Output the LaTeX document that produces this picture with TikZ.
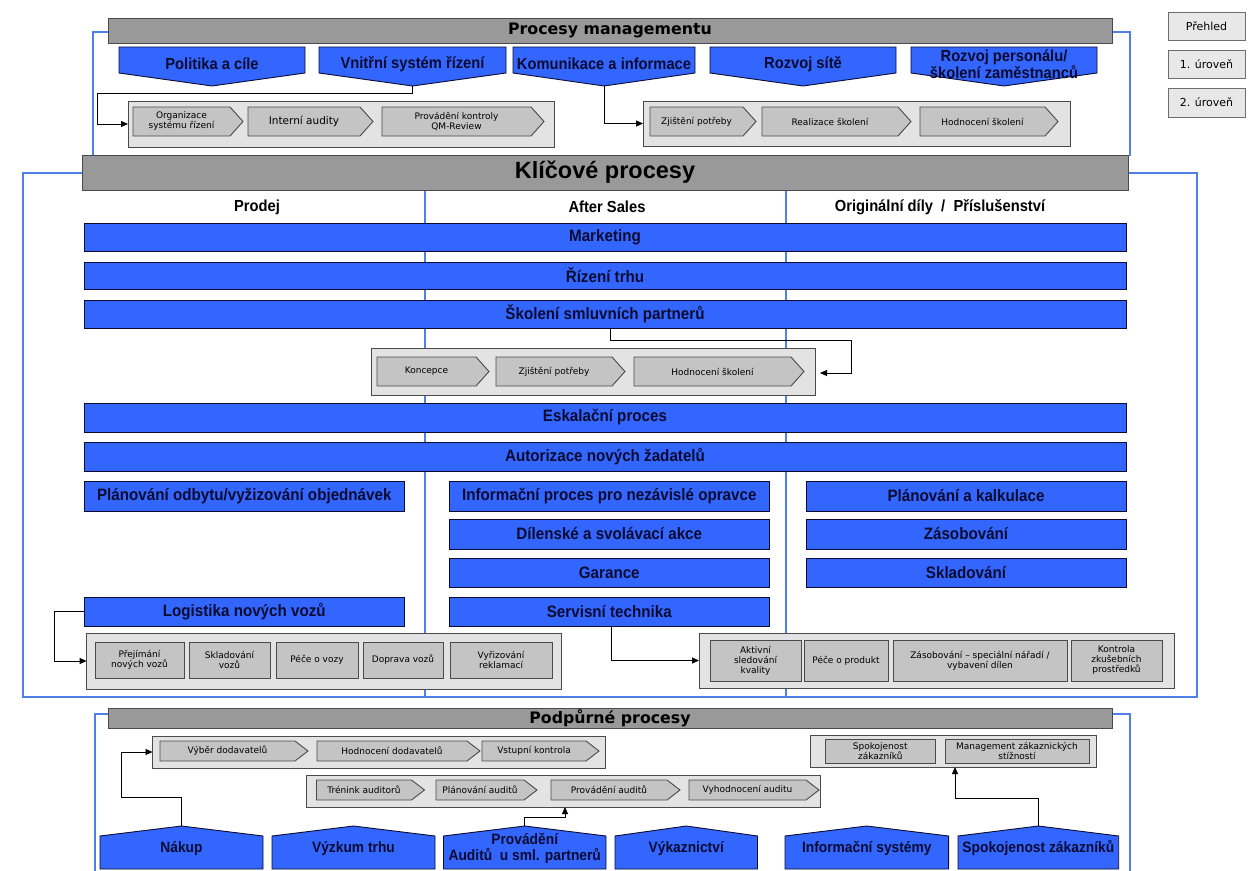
\documentclass[tikz,border=0pt]{standalone}
\usepackage{fontspec}
\setmainfont{Liberation Sans}
\newfontfamily\dejafont{DejaVu Sans}
\newfontfamily\barfont[FakeStretch=0.92]{Liberation Sans}
\usetikzlibrary{arrows.meta}

\definecolor{procblue}{HTML}{3366FF}
\definecolor{frameblue}{HTML}{4F7FE8}
\definecolor{bartext}{HTML}{0B0B30}
\definecolor{bargray}{HTML}{999999}
\definecolor{stepgray}{HTML}{C4C4C4}
\definecolor{panelgray}{HTML}{E3E3E3}
\definecolor{edgegray}{HTML}{4A4A4A}
\definecolor{legendgray}{HTML}{E8E8E8}

\tikzset{
  frameline/.style={draw=frameblue, line width=2pt},
  headbar/.style={fill=bargray, draw=edgegray, line width=1pt, inner sep=0pt, outer sep=0pt,
    font=\dejafont\bfseries\fontsize{15.8}{18}\selectfont},
  bluebar/.style={fill=procblue, draw=bartext, line width=0.9pt, text=bartext, inner sep=0pt, outer sep=0pt,
    font=\barfont\bfseries\fontsize{16.5}{18}\selectfont},
  bluepoly/.style={fill=procblue, draw=bartext, line width=0.9pt},
  bluelabel/.style={text=bartext, inner sep=0pt, align=center,
    font=\barfont\bfseries\fontsize{16}{15}\selectfont},
  colhead/.style={text=black, inner sep=0pt, font=\barfont\bfseries\fontsize{16}{18}\selectfont},
  panel/.style={fill=panelgray, draw=edgegray, line width=0.9pt, inner sep=0pt, outer sep=0pt},
  stepshape/.style={fill=stepgray, draw=edgegray, line width=0.9pt},
  steplabel/.style={text=black, inner sep=0pt, align=center, font=\dejafont\fontsize{9}{10}\selectfont},
  subbox/.style={fill=stepgray, draw=edgegray, line width=0.9pt, inner sep=0pt, outer sep=0pt,
    align=center, font=\dejafont\fontsize{9}{10}\selectfont},
  legendbox/.style={fill=legendgray, draw=edgegray!80, line width=0.8pt, inner sep=0pt, outer sep=0pt,
    font=\dejafont\fontsize{11}{13}\selectfont},
  conn/.style={draw=black, line width=0.9pt},
  arr/.style={conn, -{Triangle[length=7pt,width=6pt]}}
}

% rectangle node from its corners: style, name, x1, y1, x2, y2, text
\newcommand{\rectnode}[7]{%
  \node[#1, anchor=north west, minimum width={#5pt-#3pt}, minimum height={#6pt-#4pt}] (#2) at (#3,#4) {#7};}
% process step with a pointed right end: name, x1, y1, x2, y2, text
\newcommand{\stepchev}[6]{%
  \path[stepshape] (#2,#3) -- ({#4-13},#3) -- (#4,{(#3+#5)/2}) -- ({#4-13},#5) -- (#2,#5) -- cycle;
  \node[steplabel] (#1) at ({(#2+#4-13)/2},{(#3+#5)/2}) {#6};}
% process box pointing down: name, x1, x2, top, shoulder, tip, text
\newcommand{\pentdown}[7]{%
  \path[bluepoly] (#2,#4) -- (#3,#4) -- (#3,#5) -- ({(#2+#3)/2},#6) -- (#2,#5) -- cycle;
  \coordinate (#1-tip) at ({(#2+#3)/2},#6);
  \node[bluelabel] (#1) at ({(#2+#3)/2},{(#4+#5)/2+4}) {#7};}
% process box pointing up: name, x1, x2, peak, shoulder, bottom, text
\newcommand{\pentup}[7]{%
  \path[bluepoly] (#2,#5) -- ({(#2+#3)/2},#4) -- (#3,#5) -- (#3,#6) -- (#2,#6) -- cycle;
  \coordinate (#1-peak) at ({(#2+#3)/2},#4);
  \node[bluelabel, font=\barfont\bfseries\fontsize{15}{15.5}\selectfont] (#1) at ({(#2+#3)/2},{(#5+#6)/2-4}) {#7};}

\begin{document}
\begin{tikzpicture}[x=1pt,y=-1pt]
\useasboundingbox (0,0) rectangle (1258,870);
\fill[white] (0,0) rectangle (1258,870);

% ---------- section frames ----------
\draw[frameline] (93,158) -- (93,32) -- (1130,32) -- (1130,156);
\draw[frameline] (82,173) -- (22.5,173) -- (22.5,697) -- (1197,697) -- (1197,173) -- (1128,173);
\draw[frameline] (425,190) -- (425,697);
\draw[frameline] (786,190) -- (786,697);
\draw[frameline] (108,714) -- (95,714) -- (95,872);
\draw[frameline] (1112,714) -- (1130,714) -- (1130,872);

% ---------- management processes ----------
\rectnode{headbar}{mgmt}{108}{18}{1112}{43}{Procesy managementu}
\pentdown{pol}{119}{305}{47}{73}{86}{Politika a cíle}
\pentdown{vss}{319}{506}{47}{73}{86}{Vnitřní systém řízení}
\pentdown{kom}{513}{695}{47}{73}{86}{Komunikace a informace}
\pentdown{sit}{710}{896}{47}{73}{86}{Rozvoj sítě}
\pentdown{per}{911}{1097}{47}{73}{86}{Rozvoj personálu/\\školení zaměstnanců}

\rectnode{panel}{qms}{128}{101}{554}{147}{}
\stepchev{qa}{133}{107}{243}{136}{Organizace\\systému řízení}
\stepchev{qb}{248}{107}{373}{136}{\fontsize{10.5}{12}\selectfont Interní audity}
\stepchev{qc}{382}{107}{544}{136}{Provádění kontroly\\QM-Review}

\rectnode{panel}{trn}{643}{101}{1070}{146}{}
\stepchev{ta}{650}{107}{756}{136}{Zjištění potřeby}
\stepchev{tb}{762}{107}{911}{136}{Realizace školení}
\stepchev{tc}{920}{107}{1058}{136}{Hodnocení školení}

\coordinate (j1) at (97,93);
\draw[arr] (vss-tip) |- (j1) |- (qms.west);
\draw[arr] (kom-tip) |- (trn.west);

% ---------- legend ----------
\rectnode{legendbox}{lg0}{1168}{12}{1245}{40}{Přehled}
\rectnode{legendbox}{lg1}{1168}{50}{1245}{78}{1. úroveň}
\rectnode{legendbox}{lg2}{1168}{88}{1245}{117}{2. úroveň}

% ---------- key processes ----------
\rectnode{headbar, font=\bfseries\fontsize{23.5}{26}\selectfont}{key}{82}{155}{1128}{190}{Klíčové procesy}
\node[colhead] (hp) at (257,207) {Prodej};
\node[colhead] (ha) at (607,207) {After Sales};
\node[colhead] (ho) at (940,207) {Originální díly \ / \ Příslušenství};

\rectnode{bluebar}{mkt}{84}{223}{1126}{251}{Marketing}
\rectnode{bluebar}{rzt}{84}{262}{1126}{289}{Řízení trhu}
\rectnode{bluebar}{skp}{84}{300}{1126}{328}{Školení smluvních partnerů}

\rectnode{panel}{kon}{371}{348}{815}{395}{}
\stepchev{ka}{377}{357}{489}{386}{Koncepce}
\stepchev{kb}{496}{357}{625}{386}{Zjištění potřeby}
\stepchev{kc}{634}{357}{804}{386}{Hodnocení školení}
\coordinate (j2) at (851,340);
\coordinate (j3) at (820,373);
\draw[arr] ([xshift=5pt]skp.south) |- (j2) |- (j3);

\rectnode{bluebar}{esk}{84}{403}{1126}{432}{Eskalační proces}
\rectnode{bluebar}{aut}{84}{442}{1126}{471}{Autorizace nových žadatelů}

\rectnode{bluebar}{pod}{84.6}{481}{404}{511}{Plánování odbytu/vyžizování objednávek}
\rectnode{bluebar}{log}{84.6}{597}{404}{626}{Logistika nových vozů}

\rectnode{bluebar}{inf}{449.6}{481}{769}{511}{Informační proces pro nezávislé opravce}
\rectnode{bluebar}{dil}{449.6}{519}{769}{549}{Dílenské a svolávací akce}
\rectnode{bluebar}{gar}{449.6}{558}{769}{587}{Garance}
\rectnode{bluebar}{ser}{449.6}{597}{769}{626}{Servisní technika}

\rectnode{bluebar}{plk}{806}{481}{1126}{511}{Plánování a kalkulace}
\rectnode{bluebar}{zas}{806}{519}{1126}{549}{Zásobování}
\rectnode{bluebar}{skl}{806}{558}{1126}{587}{Skladování}

\rectnode{panel}{veh}{86.6}{633}{561}{689}{}
\rectnode{subbox}{va}{95}{642}{184}{678}{Přejímání\\nových vozů}
\rectnode{subbox}{vb}{189}{642}{270}{678}{Skladování\\vozů}
\rectnode{subbox}{vc}{276}{642}{358}{678}{Péče o vozy}
\rectnode{subbox}{vd}{363}{642}{443}{678}{Doprava vozů}
\rectnode{subbox}{ve}{450}{642}{552}{678}{Vyřizování\\reklamací}
\coordinate (j4) at (54,611.5);
\draw[arr] (log.west) -- (j4) |- (veh.west);

\rectnode{panel}{prd}{699}{633}{1174}{688}{}
\rectnode{subbox}{pa}{710}{640}{801}{681}{Aktivní\\sledování\\kvality}
\rectnode{subbox}{pb}{804}{640}{888}{681}{Péče o produkt}
\rectnode{subbox}{pc}{893}{640}{1067}{681}{Zásobování – speciální nářadí /\\vybavení dílen}
\rectnode{subbox}{pd}{1071}{640}{1162}{681}{Kontrola\\zkušebních\\prostředků}
\draw[arr] ([xshift=2pt]ser.south) |- (prd.west);

% ---------- support processes ----------
\rectnode{headbar}{sup}{108}{708}{1112}{728}{Podpůrné procesy}

\rectnode{panel}{buy}{152.5}{736}{605}{768}{}
\stepchev{ba}{160}{741}{308}{761}{Výběr dodavatelů}
\stepchev{bb}{317}{741}{480}{761}{Hodnocení dodavatelů}
\stepchev{bc}{482}{741}{599}{761}{Vstupní kontrola}

\rectnode{panel}{aud}{306.5}{775}{820.5}{807}{}
\stepchev{aa}{316.5}{780}{424.5}{800}{Trénink auditorů}
\stepchev{ab}{436}{780}{537}{800}{Plánování auditů}
\stepchev{ac}{551}{780}{680}{800}{Provádění auditů}
\stepchev{ad}{689}{780}{819}{800}{Vyhodnocení auditu}

\rectnode{panel}{cst}{810}{735}{1096}{767}{}
\rectnode{subbox}{ca}{825.5}{739}{935}{763}{Spokojenost\\zákazníků}
\rectnode{subbox}{cb}{945}{739}{1089}{763}{Management zákaznických\\stížností}

\pentup{nak}{100}{263}{826}{836}{869}{Nákup}
\pentup{vyz}{272}{435}{826}{836}{869}{Výzkum trhu}
\pentup{pro}{443.5}{606}{826}{836}{869}{Provádění\\Auditů \ u sml. partnerů}
\pentup{vyk}{615}{757.5}{826}{836}{869}{Výkaznictví}
\pentup{ins}{785}{948.6}{826}{836}{869}{Informační systémy}
\pentup{spo}{958}{1118.7}{826}{836}{869}{Spokojenost zákazníků}

\coordinate (j5) at (121,797);
\draw[arr] (nak-peak) |- (j5) |- (buy.west);
\coordinate (j6) at (565,817);
\draw[arr] (pro-peak) |- (j6) -- (j6 |- aud.south);
\coordinate (j7) at (955,798);
\draw[arr] (spo-peak) |- (j7) -- (j7 |- cst.south);
\end{tikzpicture}
\end{document}
